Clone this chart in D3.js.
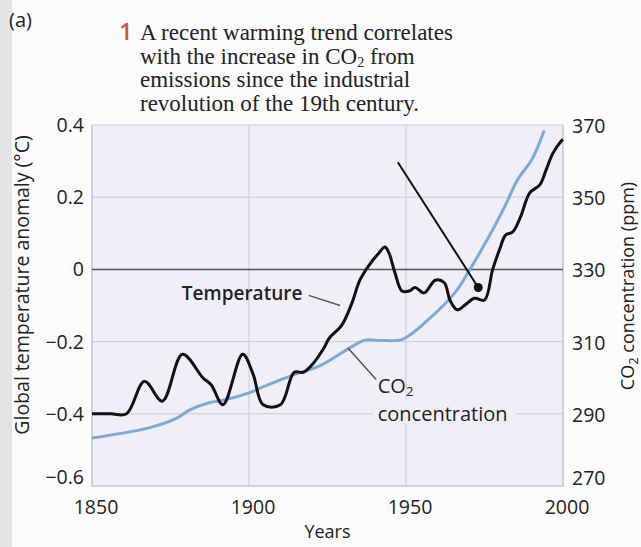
<!DOCTYPE html>
<html>
<head>
<meta charset="utf-8">
<script src="https://cdn.jsdelivr.net/npm/d3@7"></script>
<style>
  html, body { margin: 0; padding: 0; background: #fbfbfc; }
  svg { display: block; }
  .tick-label { font-family: "Open Sans", sans-serif; font-size: 19.5px; fill: #222; }
  .axis-title { font-family: "Open Sans", sans-serif; font-size: 18px; fill: #222; }
  .caption { font-family: "Liberation Serif", "DejaVu Serif", serif; font-size: 23px; fill: #222; }
</style>
</head>
<body>
<div id="chart"></div>
<script>
// years / temperature anomaly (°C)
const tempYears = [1850, 1856, 1861, 1866.7, 1872.4, 1878.8, 1885.3, 1888, 1891.7, 1898, 1901.3, 1904.5, 1910,
  1914.4, 1917.3, 1920.5, 1923.7, 1925.6, 1929.5, 1932.7, 1935.3, 1938.1, 1941.3, 1943.3, 1944.6,
  1946.5, 1948.7, 1951, 1952.9, 1955.8, 1959.3, 1962.2, 1964, 1966.3, 1968.9, 1971.8, 1975,
  1977.6, 1979.8, 1981.7, 1984, 1986.5, 1989.4, 1992.6, 1994.6, 1996.8, 1999.4, 2000];
const tempValues = [-0.40, -0.40, -0.40, -0.31, -0.365, -0.235, -0.30, -0.32, -0.375, -0.235, -0.29, -0.375, -0.375,
  -0.285, -0.285, -0.26, -0.22, -0.19, -0.155, -0.095, -0.03, 0.01, 0.045, 0.062, 0.045,
  -0.01, -0.06, -0.06, -0.05, -0.065, -0.03, -0.037, -0.085, -0.112, -0.098, -0.08, -0.085,
  0.0, 0.055, 0.095, 0.104, 0.146, 0.212, 0.234, 0.275, 0.322, 0.355, 0.36];

// years / CO2 concentration (ppm)
const co2Years = [1850, 1862, 1869, 1877, 1881, 1887, 1892, 1900, 1906, 1914, 1923, 1932, 1937, 1942,
  1949, 1957, 1966, 1970, 1977, 1982, 1985.5, 1990, 1992, 1994];
const co2Values = [283.3, 285, 286.3, 288.8, 291, 293, 293.8, 295.8, 298, 300.7, 303.5, 308.2, 310.4, 310.3,
  310.7, 316, 324, 329.5, 340, 348.4, 354.8, 360.3, 364, 368.5];

const xTicks = [1850, 1900, 1950, 2000];
const tempTicks = [0.4, 0.2, 0, -0.2, -0.4, -0.6];
const co2Ticks = [370, 350, 330, 310, 290, 270];

const width = 641, height = 547;
const margin = { top: 125, right: 78, bottom: 61, left: 92 };
const plotW = width - margin.left - margin.right;
const plotH = height - margin.top - margin.bottom;

const svg = d3.select("#chart").append("svg")
  .attr("width", width)
  .attr("height", height);

// page edge shading on the left
svg.append("rect").attr("x", 0).attr("y", 0).attr("width", 12).attr("height", height).attr("fill", "#e4e4e6");

// caption
svg.append("text").attr("x", 9).attr("y", 27)
  .style("font-family", "'Open Sans', sans-serif").style("font-size", "20px").attr("fill", "#222")
  .text("(a)");
svg.append("text")
  .attr("x", 119).attr("y", 40)
  .style("font-family", "'Open Sans', sans-serif").style("font-size", "24px").style("font-weight", "600")
  .attr("fill", "#d3553a").text("1");

const captionLines = [
  ["A recent warming trend correlates"],
  ["with the increase in CO", "2", " from"],
  ["emissions since the industrial"],
  ["revolution of the 19th century."]
];
captionLines.forEach((parts, i) => {
  const t = svg.append("text").attr("class", "caption").attr("x", 140).attr("y", 40 + i * 23.5);
  parts.forEach((p, j) => {
    if (j === 1) {
      t.append("tspan").attr("dy", 3).style("font-size", "14px").text(p);
    } else if (j === 2) {
      t.append("tspan").attr("dy", -3).text(p);
    } else {
      t.append("tspan").text(p);
    }
  });
});

const g = svg.append("g").attr("transform", `translate(${margin.left},${margin.top})`);

const x = d3.scaleLinear().domain([1850, 2000]).range([0, plotW]);
const yT = d3.scaleLinear().domain([-0.6, 0.4]).range([plotH, 0]);
const yC = d3.scaleLinear().domain([270, 370]).range([plotH, 0]);

// plot background
g.append("rect").attr("width", plotW).attr("height", plotH).attr("fill", "#f0eff7");

// gridlines
g.selectAll(".hgrid").data(tempTicks.filter(d => d !== 0 && d !== -0.6)).enter()
  .append("line")
  .attr("x1", 0).attr("x2", plotW)
  .attr("y1", d => yT(d)).attr("y2", d => yT(d))
  .attr("stroke", "#cbcad8").attr("stroke-width", 1);
g.selectAll(".vgrid").data(xTicks.slice(1, 3)).enter()
  .append("line")
  .attr("x1", d => x(d)).attr("x2", d => x(d))
  .attr("y1", 0).attr("y2", plotH)
  .attr("stroke", "#cbcad8").attr("stroke-width", 1);

// frame (left, bottom, right)
g.append("path")
  .attr("d", `M0,0V${plotH}H${plotW}V0`)
  .attr("fill", "none").attr("stroke", "#c4c3d2").attr("stroke-width", 1.5);

// zero line
g.append("line")
  .attr("x1", 0).attr("x2", plotW)
  .attr("y1", yT(0)).attr("y2", yT(0))
  .attr("stroke", "#555").attr("stroke-width", 1.5);

// background patch behind the CO2 label (cuts the gridline)
g.append("rect")
  .attr("x", x(1939.5)).attr("y", yT(-0.365)).attr("width", 142).attr("height", 22)
  .attr("fill", "#f0eff7");

// CO2 line
const co2Line = d3.line()
  .x((d, i) => x(co2Years[i]))
  .y(d => yC(d))
  .curve(d3.curveCatmullRom);
g.append("path")
  .attr("d", co2Line(co2Values))
  .attr("fill", "none").attr("stroke", "#7ea8d6").attr("stroke-width", 3);

// temperature line
const tempLine = d3.line()
  .x((d, i) => x(tempYears[i]))
  .y(d => yT(d))
  .curve(d3.curveCatmullRom);
g.append("path")
  .attr("d", tempLine(tempValues))
  .attr("fill", "none").attr("stroke", "#111").attr("stroke-width", 3)
  .attr("stroke-linejoin", "round");

// pointer from caption to 1970s
g.append("line")
  .attr("x1", x(1947.4)).attr("y1", yT(0.297))
  .attr("x2", x(1973)).attr("y2", yT(-0.05))
  .attr("stroke", "#111").attr("stroke-width", 2);
g.append("circle")
  .attr("cx", x(1973)).attr("cy", yT(-0.05)).attr("r", 4.5).attr("fill", "#111");

// "Temperature" label
g.append("text")
  .attr("x", x(1917)).attr("y", yT(-0.085))
  .attr("text-anchor", "end")
  .style("font-family", "'Open Sans', sans-serif").style("font-size", "19px").style("font-weight", "600")
  .attr("fill", "#222").text("Temperature");
g.append("line")
  .attr("x1", x(1919)).attr("y1", yT(-0.072))
  .attr("x2", x(1929)).attr("y2", yT(-0.1))
  .attr("stroke", "#555").attr("stroke-width", 1.5);

// CO2 label
g.append("line")
  .attr("x1", x(1931.5)).attr("y1", yT(-0.218))
  .attr("x2", x(1940.5)).attr("y2", yT(-0.305))
  .attr("stroke", "#555").attr("stroke-width", 1.5);
const co2Lab = g.append("text")
  .attr("x", x(1941)).attr("y", yT(-0.343))
  .style("font-family", "'Open Sans', sans-serif").style("font-size", "20px").attr("fill", "#222");
co2Lab.append("tspan").text("CO");
co2Lab.append("tspan").attr("dy", 3).style("font-size", "13px").text("2");
g.append("text")
  .attr("x", x(1941)).attr("y", yT(-0.42))
  .style("font-family", "'Open Sans', sans-serif").style("font-size", "20px").attr("fill", "#222")
  .text("concentration");

// left tick labels
g.selectAll(".tl").data(tempTicks).enter()
  .append("text").attr("class", "tick-label")
  .attr("x", -8).attr("y", d => yT(d) + (d === -0.6 ? -2 : 7))
  .attr("text-anchor", "end")
  .text(d => d === 0 ? "0" : d3.format(".1f")(d).replace("-", "\u2212"));

// right tick labels
g.selectAll(".tr").data(co2Ticks).enter()
  .append("text").attr("class", "tick-label")
  .attr("x", plotW + 9).attr("y", d => yC(d) + (d === 270 ? -1 : 8))
  .text(d => d);

// x tick labels
g.selectAll(".tx").data(xTicks).enter()
  .append("text").attr("class", "tick-label")
  .attr("x", d => x(d) + 4).attr("y", plotH + 28)
  .attr("text-anchor", "middle")
  .text(d => d);

// axis titles
svg.append("text").attr("class", "axis-title")
  .attr("x", margin.left + plotW / 2).attr("y", 538)
  .attr("text-anchor", "middle").text("Years");

svg.append("text").attr("class", "axis-title")
  .style("font-size", "19.5px")
  .attr("transform", "translate(29,285) rotate(-90)")
  .attr("text-anchor", "middle")
  .text("Global temperature anomaly (\u00B0C)");

const rt = svg.append("text").attr("class", "axis-title")
  .attr("transform", "translate(634,286) rotate(-90)")
  .attr("text-anchor", "middle");
rt.append("tspan").text("CO");
rt.append("tspan").attr("dy", 4).style("font-size", "13px").text("2");
rt.append("tspan").attr("dy", -4).text(" concentration (ppm)");
</script>
</body>
</html>
